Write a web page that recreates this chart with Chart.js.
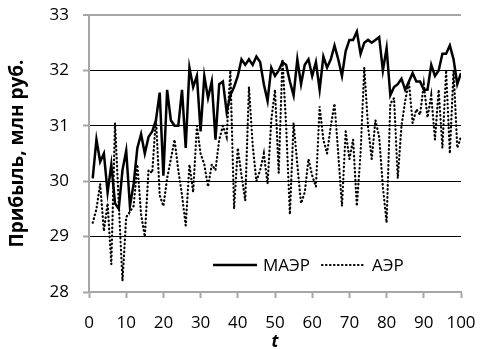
<!DOCTYPE html>
<html>
<head>
<meta charset="utf-8">
<script src="https://cdn.jsdelivr.net/npm/chart.js@4"></script>
<style>
  body { margin: 0; background: #fff; }
  canvas { display: block; }
</style>
</head>
<body>
<canvas id="profitChart" width="481" height="349"></canvas>
<script>
  // data
  const periods = Array.from({ length: 100 }, (_, i) => i + 1);

  const maer = [
    30.05, 30.75, 30.35, 30.5, 29.8, 30.3, 29.6, 29.5, 30.2, 30.55,
    29.55, 29.95, 30.6, 30.85, 30.5, 30.8, 30.9, 31.1, 31.6, 30.1,
    31.65, 31.1, 31.0, 31.0, 31.65, 30.6, 32.05, 31.7, 31.9, 30.9,
    31.9, 31.5, 31.8, 30.75, 31.75, 31.8, 31.25, 31.55, 31.7, 31.9,
    32.2, 32.1, 32.2, 32.1, 32.25, 32.15, 31.75, 31.45, 32.05, 31.9,
    32.0, 32.15, 32.1, 31.8, 31.55, 32.2, 31.75, 32.1, 32.2, 31.9,
    32.15, 31.65, 32.25, 32.05, 32.2, 32.45, 32.2, 31.9, 32.35, 32.55,
    32.55, 32.7, 32.3, 32.5, 32.55, 32.5, 32.55, 32.6, 32.0, 32.4,
    31.55, 31.7, 31.75, 31.85, 31.65, 31.8, 31.95, 31.8, 31.8, 31.65,
    31.65, 32.1, 31.9, 32.0, 32.3, 32.3, 32.45, 32.2, 31.75, 31.95
  ];

  const aer = [
    29.25, 29.5, 29.95, 29.1, 29.6, 28.5, 31.05, 29.6, 28.2, 29.35,
    29.45, 29.55, 30.3, 29.4, 29.0, 30.2, 30.15, 31.15, 29.75, 29.55,
    30.05, 30.4, 30.75, 30.2, 29.75, 29.2, 30.3, 29.8, 31.0, 30.5,
    30.3, 29.9, 30.3, 30.2, 30.75, 31.0, 30.8, 32.0, 29.5, 30.6,
    30.1, 29.65, 31.7, 30.65, 30.0, 30.2, 30.5, 29.95, 31.1, 31.65,
    30.15, 32.2, 31.0, 29.4, 31.05, 30.3, 29.6, 29.8, 30.4, 30.1,
    29.9, 31.35, 30.75, 30.5, 31.0, 31.4, 30.5, 29.55, 30.9, 30.4,
    30.75, 29.55, 30.5, 32.05, 31.0, 30.4, 31.1, 30.8, 29.9, 29.25,
    31.4, 31.5, 30.05, 31.0, 31.45, 31.8, 31.05, 31.3, 31.2, 31.75,
    31.15, 31.55, 30.75, 31.65, 30.6, 32.0, 30.5, 32.0, 30.6, 30.8
  ];

  const seriesNames = ['МАЭР', 'АЭР'];
  const xTicks = { min: 0, max: 100, step: 10 };
  const yTicks = { min: 28, max: 33, step: 1 };

  const AXIS_GRAY = '#a6a6a6';
  const FONT = "'Open Sans', 'DejaVu Sans', sans-serif";

  const toPoints = (vals) => vals.map((v, i) => ({ x: periods[i], y: v }));

  // legend drawn inside the plot, like the original
  const innerLegend = {
    id: 'innerLegend',
    afterDatasetsDraw(chart) {
      const { ctx, chartArea } = chart;
      const y = chartArea.bottom - 27;
      const items = [
        { ds: chart.data.datasets[0], x: chartArea.left + 124 },
        { ds: chart.data.datasets[1], x: chartArea.left + 233 }
      ];
      ctx.save();
      items.forEach(it => {
        ctx.beginPath();
        ctx.strokeStyle = it.ds.borderColor;
        ctx.lineWidth = it.ds.borderWidth;
        ctx.lineCap = it.ds.borderCapStyle || 'butt';
        ctx.setLineDash(it.ds.borderDash || []);
        ctx.moveTo(it.x, y);
        ctx.lineTo(it.x + 44, y);
        ctx.stroke();
        ctx.setLineDash([]);
        ctx.fillStyle = '#000';
        ctx.font = '17px ' + FONT;
        ctx.textBaseline = 'middle';
        ctx.fillText(it.ds.label, it.x + 50, y + 1);
      });
      ctx.restore();
    }
  };

  const ctx = document.getElementById('profitChart').getContext('2d');
  new Chart(ctx, {
    type: 'line',
    data: {
      datasets: [
        {
          label: seriesNames[0],
          data: toPoints(maer),
          borderColor: '#000',
          borderWidth: 2.5,
          borderCapStyle: 'butt',
          order: 1
        },
        {
          label: seriesNames[1],
          data: toPoints(aer),
          borderColor: '#000',
          borderWidth: 2.2,
          borderDash: [0.5, 3.5],
          borderCapStyle: 'round',
          order: 2
        }
      ]
    },
    options: {
      responsive: false,
      animation: false,
      layout: { padding: { top: 15, right: 20, left: 0, bottom: 0 } },
      elements: {
        point: { radius: 0 },
        line: { tension: 0 }
      },
      plugins: {
        legend: { display: false },
        tooltip: { enabled: false }
      },
      scales: {
        x: {
          type: 'linear',
          min: xTicks.min,
          max: xTicks.max,
          afterFit: (scale) => {
            scale.height = 57;
            scale.paddingLeft = 0;
            scale.paddingRight = 0;
          },
          ticks: {
            stepSize: xTicks.step,
            color: '#000',
            font: { family: FONT, size: 17 },
            padding: 15,
            maxRotation: 0
          },
          grid: {
            drawOnChartArea: false,
            drawTicks: true,
            tickLength: 6,
            tickColor: AXIS_GRAY,
            tickWidth: 2
          },
          border: { color: AXIS_GRAY, width: 2 },
          title: {
            display: true,
            text: 't',
            color: '#000',
            font: { family: FONT, size: 17, weight: 'bold', style: 'italic' },
            padding: { top: 0, bottom: -3 }
          }
        },
        y: {
          min: yTicks.min,
          max: yTicks.max,
          afterFit: (scale) => {
            scale.width = 89;
            scale.paddingTop = 0;
            scale.paddingBottom = 0;
          },
          ticks: {
            stepSize: yTicks.step,
            color: '#000',
            font: { family: FONT, size: 17 },
            padding: 14
          },
          grid: {
            color: (c) => (c.tick && (c.tick.value === yTicks.max || c.tick.value === yTicks.min)) ? AXIS_GRAY : '#000',
            lineWidth: (c) => (c.tick && c.tick.value === yTicks.max) ? 2 : 1,
            drawTicks: true,
            tickLength: 6,
            tickColor: AXIS_GRAY,
            tickWidth: 2
          },
          border: { color: AXIS_GRAY, width: 2 },
          title: {
            display: true,
            text: 'Прибыль, млн руб.',
            color: '#000',
            font: { family: FONT, size: 19, weight: 'bold' },
            padding: { top: 6, bottom: 0 }
          }
        }
      }
    },
    plugins: [innerLegend]
  });
</script>
</body>
</html>
